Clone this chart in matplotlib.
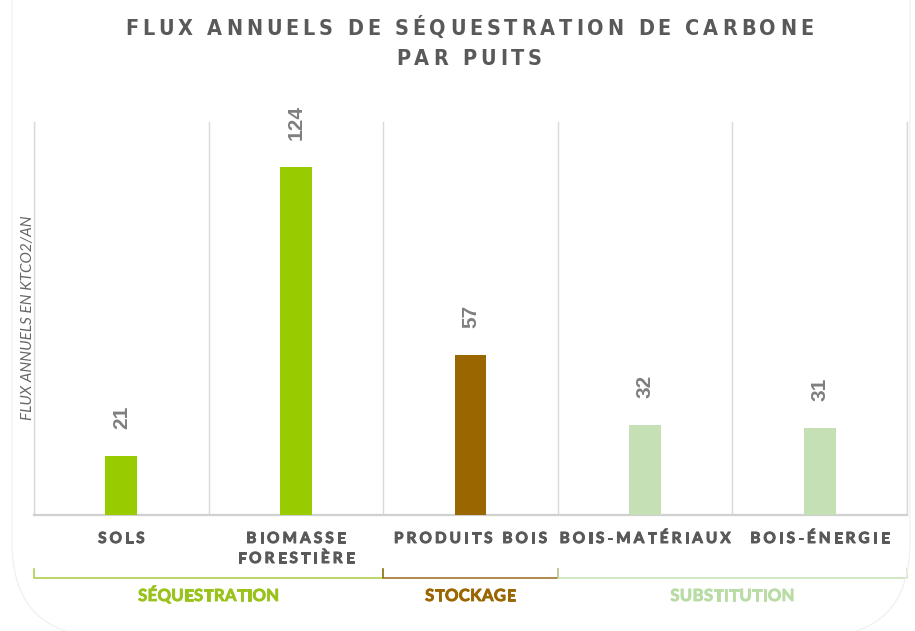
import matplotlib
matplotlib.use("Agg")
import matplotlib.pyplot as plt
import matplotlib.patheffects as pe
import numpy as np
from matplotlib.font_manager import FontProperties, findfont, get_font
from matplotlib.transforms import IdentityTransform, blended_transform_factory
from matplotlib.patches import FancyBboxPatch

# ---- data -------------------------------------------------------------
categories = ["SOLS", "BIOMASSE\nFORESTIÈRE", "PRODUITS BOIS", "BOIS-MATÉRIAUX", "BOIS-ÉNERGIE"]
values = [21, 124, 57, 32, 31]
bar_colors = ["#99cc00", "#99cc00", "#996600", "#c5e0b4", "#c5e0b4"]
groups = ["SÉQUESTRATION", "STOCKAGE", "SUBSTITUTION"]
group_spans = [(0, 1), (2, 2), (3, 4)]          # first / last category index
group_colors = ["#99c31a", "#996600", "#b8dca4"]
group_line_colors = ["#a8cc3c", "#9b6a1a", "#c5e0b4"]
title_lines = ["FLUX ANNUELS DE SÉQUESTRATION DE CARBONE", "PAR PUITS"]
ylabel = "FLUX ANNUELS EN KTCO2/AN"

W, H, DPI = 915, 631, 100
TEXT_GREY = "#595959"

fig = plt.figure(figsize=(W / DPI, H / DPI), dpi=DPI)
fig.patch.set_facecolor("white")


def advances(s, prop, size):
    font = get_font(findfont(prop))
    font.set_size(size, DPI)
    return [font.load_char(ord(c)).linearHoriAdvance / 65536 for c in s]


def tracking_for(s, prop, size, width):
    adv = advances(s, prop, size)
    return (width - sum(adv)) / (len(s) - 1)


def tracked_text(cx, baseline, s, prop, size, track, color, stroke=0.0):
    """Draw letter-spaced text centred on cx (pixels from left), baseline in pixels from top."""
    adv = advances(s, prop, size)
    total = sum(adv) + track * (len(s) - 1)
    x = cx - total / 2
    effects = [pe.withStroke(linewidth=stroke, foreground=color)] if stroke else None
    for c, a in zip(s, adv):
        if c != " ":
            fig.text(x + a / 2, H - baseline, c, transform=IdentityTransform(),
                     fontproperties=prop, fontsize=size, color=color,
                     ha="center", va="baseline", path_effects=effects)
        x += a + track


# faint rounded frame behind the chart (only its lower corners fall inside the figure)
frame = FancyBboxPatch((12, -6), 898, 1200,
                       boxstyle="round,pad=0,rounding_size=95",
                       transform=IdentityTransform(), fill=False,
                       edgecolor="#f0f0f0", linewidth=0.9, zorder=0)
fig.patches.append(frame)

# ---- bars ---------------------------------------------------------------
ax = fig.add_axes([34 / W, 1 - 515 / H, 873 / W, 393 / H])
x = np.arange(len(categories))
ax.bar(x, values, width=0.183, color=bar_colors, zorder=3)
ax.set_xlim(-0.5, len(categories) - 0.5)
ax.set_ylim(0, 140)
ax.set_facecolor("none")

ax.set_xticks(x)
ax.set_xticklabels([])
ax.set_xticks(np.arange(-0.5, len(categories)), minor=True)
ax.set_yticks([])
ax.tick_params(which="both", length=0)
ax.grid(which="minor", axis="x", color="#d9d9d9", linewidth=1.0)
for side in ("left", "right"):
    ax.spines[side].set_color("#d9d9d9")
    ax.spines[side].set_linewidth(1.0)
ax.spines["top"].set_visible(False)
ax.spines["bottom"].set_color("#d0d0d0")
ax.spines["bottom"].set_linewidth(1.6)

for xi, v in zip(x, values):
    ax.annotate(str(v), (xi, v), xytext=(0, 19.5), textcoords="offset points",
                rotation=90, ha="center", va="bottom", fontsize=15,
                fontweight="bold", family="Liberation Sans", color="#7f7f7f")

# ---- title ----------------------------------------------------------------
title_prop = FontProperties(family="DejaVu Sans", weight="bold", stretch="condensed")
t_size = 15.5
t_track = tracking_for(title_lines[0], title_prop, t_size, 688)
tracked_text(469, 35, title_lines[0], title_prop, t_size, t_track, TEXT_GREY)
tracked_text(469, 65, title_lines[1], title_prop, t_size, t_track, TEXT_GREY)

# ---- category labels ----------------------------------------------------------
cat_prop = FontProperties(family="Lato", weight="bold")
c_size = 11
c_track = tracking_for("BOIS-MATÉRIAUX", cat_prop, c_size, 171)
for xi, label in zip(x, categories):
    cx = ax.transData.transform((xi, 0))[0]
    for k, line in enumerate(label.split("\n")):
        tracked_text(cx, 543 + 20 * k, line, cat_prop, c_size, c_track, TEXT_GREY,
                     stroke=0.7)

# ---- group brackets -------------------------------------------------------------
trans = blended_transform_factory(ax.transData, ax.transAxes)
y_line = -(578 - 515) / 393
y_tick = -(569 - 515) / 393
grp_prop = FontProperties(family="Lato", weight="bold")
g_size = 12
g_track = tracking_for(groups[0], grp_prop, g_size, 141)
for name, (i0, i1), tc, lc in zip(groups, group_spans, group_colors, group_line_colors):
    xa, xb = i0 - 0.5, i1 + 0.5
    ax.plot([xa, xa, xb, xb], [y_tick, y_line, y_line, y_tick], color=lc,
            linewidth=1.1, transform=trans, clip_on=False)
    cx = ax.transData.transform(((xa + xb) / 2, 0))[0]
    tracked_text(cx, 601, name, grp_prop, g_size, g_track, tc, stroke=0.6)

# ---- y label ------------------------------------------------------------------------
fig.text(28, H - 318, ylabel, transform=IdentityTransform(), rotation=90,
         ha="center", va="center", fontsize=11, family="Lato",
         style="italic", color="#666666")

fig.savefig("out.png", dpi=DPI, facecolor="white")
